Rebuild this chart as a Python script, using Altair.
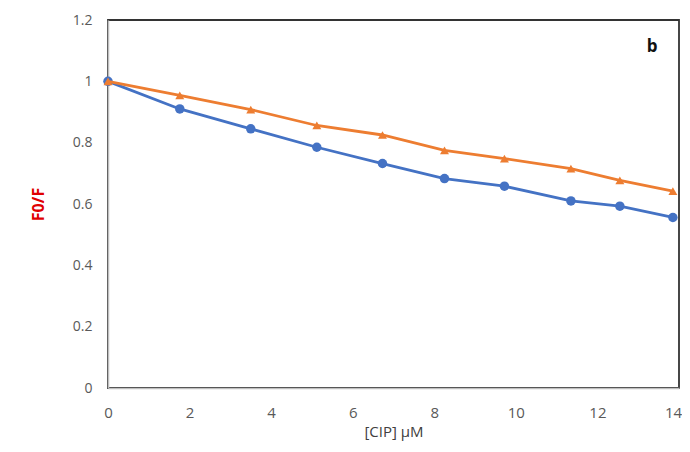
import altair as alt
import pandas as pd

x_vals = [0, 1.76, 3.5, 5.12, 6.73, 8.25, 9.72, 11.35, 12.55, 13.85]
blue_y = [1.0, 0.91, 0.845, 0.785, 0.732, 0.683, 0.658, 0.61, 0.593, 0.556]
orange_y = [1.0, 0.954, 0.908, 0.856, 0.825, 0.775, 0.748, 0.715, 0.677, 0.642]
x_ticks = [0, 2, 4, 6, 8, 10, 12, 14]
y_ticks = [0, 0.2, 0.4, 0.6, 0.8, 1.0, 1.2]

BLUE = "#4472C4"
ORANGE = "#ED7D31"
FONT = "Open Sans"

df_b = pd.DataFrame({"x": x_vals, "y": blue_y})
df_o = pd.DataFrame({"x": x_vals, "y": orange_y})

xs = alt.Scale(domain=[0, 14], nice=False, zero=False)
ys = alt.Scale(domain=[0, 1.2], nice=False)

x_axis = alt.Axis(values=x_ticks, title="[CIP] µM", grid=False, ticks=False,
                  domainColor="#BFBFBF", domainWidth=1.5, labelColor="#595959",
                  labelFontSize=15, labelFont=FONT, labelPadding=17,
                  labelFlush=False,
                  labelOffset={"condition": {"test": "datum.value == 14", "value": -6}, "value": 0},
                  titleFont=FONT, titleFontSize=15, titleFontWeight="normal",
                  titleColor="#404040", titlePadding=4)
y_axis = alt.Axis(values=y_ticks, title="F0/F", grid=False, ticks=False,
                  domainColor="#BFBFBF", domainWidth=1.5, labelColor="#595959",
                  labelFontSize=14, labelFont=FONT, labelPadding=16,
                  labelFlush=False,
                  labelExpr="datum.value == 0 ? '0' : format(datum.value, '.1~f')",
                  titleFont=FONT, titleFontSize=16, titleFontWeight="bold",
                  titleColor="#E00000", titleAngle=-90, titleX=-70, titleY=184,
                  titleAlign="center", titleBaseline="middle")

def series(df, color, shape, size):
    base = alt.Chart(df).encode(
        x=alt.X("x:Q", scale=xs, axis=x_axis),
        y=alt.Y("y:Q", scale=ys, axis=y_axis),
    )
    line = base.mark_line(color=color, strokeWidth=2.8)
    pts = base.mark_point(shape=shape, filled=True, color=color, size=size, opacity=1)
    return line + pts

blue = series(df_b, BLUE, "circle", 90)
orange = series(df_o, ORANGE, "triangle-up", 80)

label = alt.Chart(pd.DataFrame({"t": ["b"]})).mark_text(
    font=FONT, fontSize=17, fontWeight="bold", color="#111111",
    align="center", baseline="middle"
).encode(text="t:N", x=alt.value(544), y=alt.value(27))

chart = alt.layer(blue, orange, label).properties(
    width=571, height=368,
    background="white",
    autosize=alt.AutoSizeParams(type="none"),
    padding={"left": 100, "top": 12, "right": 3, "bottom": 56},
).configure_view(stroke="#333333", strokeWidth=1.8)

chart.save("out.html", embed_options={"renderer": "svg", "actions": False})
